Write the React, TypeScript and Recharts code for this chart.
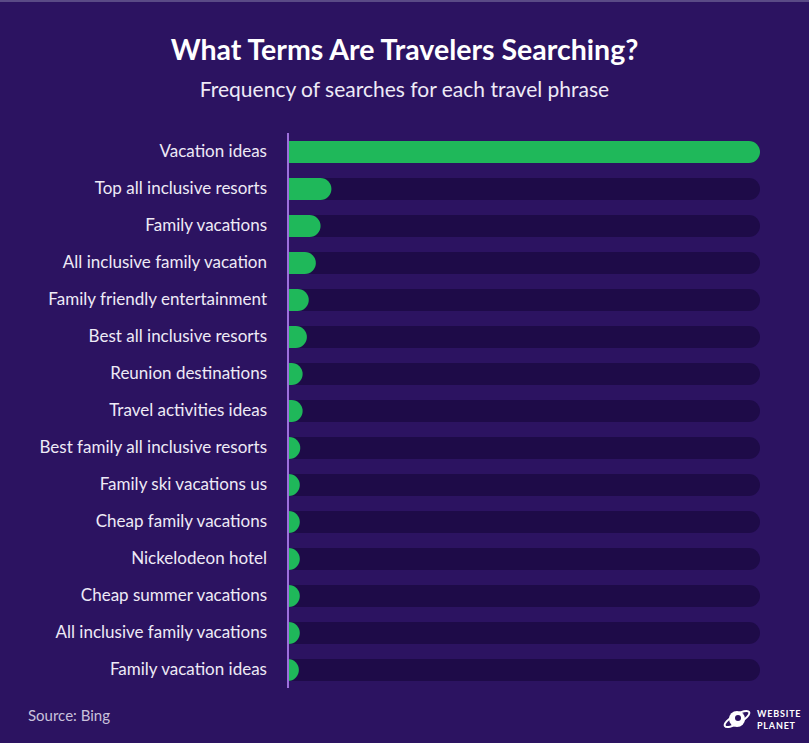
import { BarChart, Bar, XAxis, YAxis } from 'recharts';

const phrases = [
  'Vacation ideas',
  'Top all inclusive resorts',
  'Family vacations',
  'All inclusive family vacation',
  'Family friendly entertainment',
  'Best all inclusive resorts',
  'Reunion destinations',
  'Travel activities ideas',
  'Best family all inclusive resorts',
  'Family ski vacations us',
  'Cheap family vacations',
  'Nickelodeon hotel',
  'Cheap summer vacations',
  'All inclusive family vacations',
  'Family vacation ideas',
];

const frequency = [100, 9.2, 6.9, 5.9, 4.4, 4.0, 3.1, 3.1, 2.6, 2.5, 2.5, 2.5, 2.5, 2.5, 2.3];

const data = phrases.map((phrase, i) => ({ phrase, value: frequency[i] }));

const BG = '#2c1361';
const TRACK = '#1e0b48';
const GREEN = '#1fb85a';

// rounded right end, allowed to become a half circle for tiny bars
const PillBar = (props: any) => {
  const { x, y, width, height, fill } = props;
  if (!width || width <= 0) return null;
  const r = height / 2;
  const rx = Math.min(r, width);
  const d = `M${x},${y} H${x + width - rx} A${rx},${r} 0 0 1 ${x + width - rx},${y + height} H${x} Z`;
  return <path d={d} fill={fill} />;
};

const Logo = () => (
  <svg width={86} height={30} viewBox="0 0 86 30" style={{ position: 'absolute', left: 722, top: 702 }}>
    <circle cx={15} cy={15} r={8} fill="#ffffff" />
    <ellipse cx={15} cy={15} rx={14} ry={4.5} fill="none" stroke="#ffffff" strokeWidth={2} transform="rotate(-30 15 15)" />
    <circle cx={16} cy={14} r={3} fill={BG} />
    <text x={35} y={13} fill="#ffffff" fontSize={9} fontWeight={700} letterSpacing={0.8} fontFamily="Lato, sans-serif">WEBSITE</text>
    <text x={35} y={25} fill="#ffffff" fontSize={9} fontWeight={700} letterSpacing={0.8} fontFamily="Lato, sans-serif">PLANET</text>
  </svg>
);

export default function App() {
  return (
    <div
      style={{
        position: 'absolute',
        left: 0,
        top: 0,
        width: 809,
        height: 743,
        background: BG,
        borderTop: '2px solid #5a4a86',
        boxSizing: 'border-box',
        fontFamily: 'Lato, sans-serif',
        overflow: 'hidden',
      }}
    >
      <div style={{ position: 'absolute', top: 30, width: '100%', textAlign: 'center', color: '#ffffff', fontSize: 28.5, fontWeight: 700 }}>
        What Terms Are Travelers Searching?
      </div>
      <div style={{ position: 'absolute', top: 74, width: '100%', textAlign: 'center', color: '#eeeaf6', fontSize: 21 }}>
        Frequency of searches for each travel phrase
      </div>
      <div style={{ position: 'absolute', top: -2, left: 0 }}>
        <BarChart
          width={809}
          height={743}
          data={data}
          layout="vertical"
          margin={{ top: 133, right: 49, left: 0, bottom: 55 }}
          barSize={22}
        >
          <XAxis type="number" domain={[0, 100]} hide />
          <YAxis
            type="category"
            dataKey="phrase"
            width={288}
            axisLine={{ stroke: '#9d6fdc', strokeWidth: 2 }}
            tickLine={false}
            tickSize={0}
            tickMargin={21}
            tick={{ fill: '#eeeaf6', fontSize: 17, fontFamily: 'Lato, sans-serif', dy: -1 }}
            interval={0}
          />
          <Bar
            dataKey="value"
            fill={GREEN}
            background={{ fill: TRACK, radius: [0, 11, 11, 0] } as any}
            shape={PillBar}
            isAnimationActive={false}
          />
        </BarChart>
      </div>
      <div style={{ position: 'absolute', left: 28, top: 704, color: '#c9c1dc', fontSize: 15 }}>Source: Bing</div>
      <Logo />
    </div>
  );
}
